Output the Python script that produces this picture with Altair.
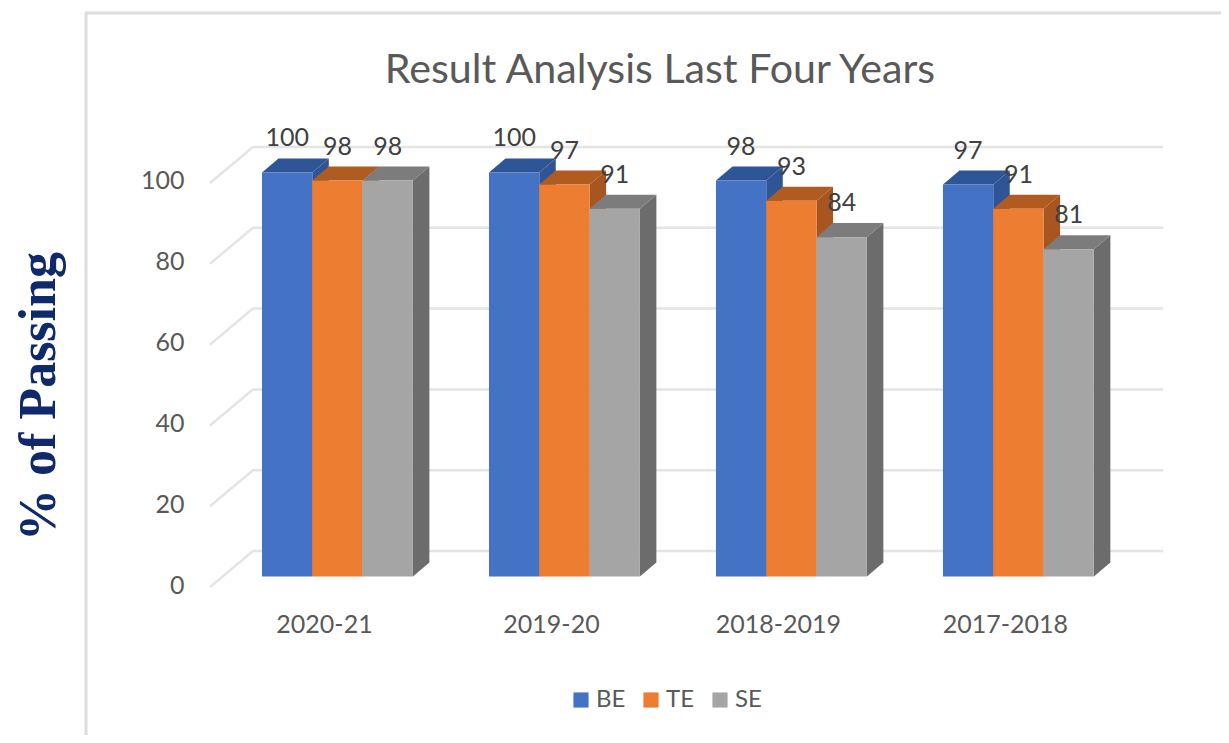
import json
import altair as alt
import pandas as pd

years = ["2020-21", "2019-20", "2018-2019", "2017-2018"]
series = ["BE", "TE", "SE"]
be = [100, 100, 98, 97]
te = [98, 97, 93, 91]
se = [98, 91, 84, 81]
ticks = [0, 20, 40, 60, 80, 100]
front = ["#4472C4", "#ED7D31", "#A5A5A5"]
top_c = ["#2E5596", "#B05B20", "#7C7C7C"]
side_c = ["#2F5597", "#A85520", "#6C6C6C"]
values = [be, te, se]

FONT = "Lato"
BAR = 0.2216
DX = 0.0727
DV = 3.47
BACK = 6.31
X_DOM = [-1.119, 4.225]
Y_DOM = [-39.2, 140.7]
xs = alt.Scale(domain=X_DOM, nice=False, zero=False)
ys = alt.Scale(domain=Y_DOM, nice=False, zero=False)

x_axis = alt.Axis(
    values=list(range(len(years))),
    labelExpr=f"{json.dumps(years)}[datum.value]",
    orient="bottom",
    offset=-111,
    domain=False,
    ticks=False,
    grid=False,
    labelPadding=0,
    labelOffset=62,
    labelBaseline="middle",
    labelFont=FONT,
    labelFontSize=25,
    labelColor="#595959",
    labelFlush=False,
    labelOverlap=False,
    title=None,
)
y_axis = alt.Axis(
    values=ticks,
    orient="left",
    offset=-176,
    domain=False,
    ticks=False,
    grid=False,
    labelPadding=0,
    labelOffset=8.5,
    labelFont=FONT,
    labelFontSize=25,
    labelColor="#595959",
    title="% of Passing",
    titleFont="Liberation Serif",
    titleFontWeight="bold",
    titleFontSize=52,
    titleColor="#10296B",
    titleX=-146,
    titleY=388,
    titleAngle=270,
    titleAlign="center",
    titleBaseline="middle",
)


def X(f="x"):
    return alt.X(f"{f}:Q", scale=xs, axis=x_axis)


def Y(f="y"):
    return alt.Y(f"{f}:Q", scale=ys, axis=y_axis, stack=None)


grid = pd.DataFrame(
    [
        {"t": t, "x": x, "y": t + d}
        for t in ticks
        for x, d in [(-0.229, -2.6), (-0.04, BACK), (3.97, BACK)]
    ]
)
grid_layer = (
    alt.Chart(grid)
    .mark_line(color="#E4E4E4", strokeWidth=2.5)
    .encode(x=X(), y=Y(), detail="t:N")
)

layers = [grid_layer]
for j, name in enumerate(series):
    sides, tops, bars = [], [], []
    for i, v in enumerate(values[j]):
        x0 = i + j * BAR
        x1 = x0 + BAR
        sides += [
            {"g": i, "x": x1, "y": v, "y2": 0},
            {"g": i, "x": x1 + DX, "y": v + DV, "y2": DV},
        ]
        tops += [
            {"g": i, "x": x0, "y": v, "y2": v},
            {"g": i, "x": x0 + DX, "y": v + DV, "y2": v},
            {"g": i, "x": x1, "y": v + DV, "y2": v},
            {"g": i, "x": x1 + DX, "y": v + DV, "y2": v + DV},
        ]
        bars.append({"series": name, "x": x0, "x2": x1, "y": v, "y2": 0})
    for rows, col in ((sides, side_c[j]), (tops, top_c[j])):
        layers.append(
            alt.Chart(pd.DataFrame(rows))
            .mark_area(color=col)
            .encode(x=X(), y=Y(), y2=alt.Y2("y2"), detail="g:N")
        )
    layers.append(
        alt.Chart(pd.DataFrame(bars))
        .mark_bar()
        .encode(
            x=X(),
            x2="x2:Q",
            y=Y(),
            y2="y2:Q",
            color=alt.Color(
                "series:N",
                scale=alt.Scale(domain=series, range=front),
                legend=alt.Legend(
                    title=None,
                    orient="none",
                    legendX=561,
                    legendY=680,
                    direction="horizontal",
                    symbolType="square",
                    symbolSize=230,
                    symbolStrokeWidth=0,
                    symbolOpacity=1,
                    labelFont=FONT,
                    labelFontSize=24,
                    labelColor="#595959",
                    columnPadding=13,
                    labelOffset=3,
                    padding=0,
                ),
            ),
        )
    )

labels = pd.DataFrame(
    [
        {"x": i + (j + 0.5) * BAR, "y": v, "t": str(v)}
        for j in range(len(series))
        for i, v in enumerate(values[j])
    ]
)
layers.append(
    alt.Chart(labels)
    .mark_text(font=FONT, fontSize=25, color="#404040", dy=-34, baseline="middle", align="center")
    .encode(x=X(), y=Y(), text="t:N")
)

frame_v = alt.Chart(pd.DataFrame({"a": [0]})).mark_rule(color="#DCDCDC", strokeWidth=3).encode(
    x=alt.value(78), y=alt.value(5), y2=alt.value(727)
)
frame_h = alt.Chart(pd.DataFrame({"a": [0]})).mark_rule(color="#DCDCDC", strokeWidth=3).encode(
    x=alt.value(77), x2=alt.value(1213), y=alt.value(5)
)
layers += [frame_v, frame_h]

chart = (
    alt.layer(*layers)
    .properties(
        width=1213,
        height=727,
        padding=0,
        background="white",
        autosize=alt.AutoSizeParams(type="none"),
        title=alt.TitleParams(
            "Result Analysis Last Four Years",
            font=FONT,
            fontSize=41.2,
            fontWeight="normal",
            color="#595959",
            anchor="middle",
            dx=45.5,
            dy=116,
            offset=0,
            baseline="alphabetic",
        ),
    )
    .configure_view(stroke=None)
)

chart.save("out.html", embed_options={"renderer": "svg", "actions": False})
